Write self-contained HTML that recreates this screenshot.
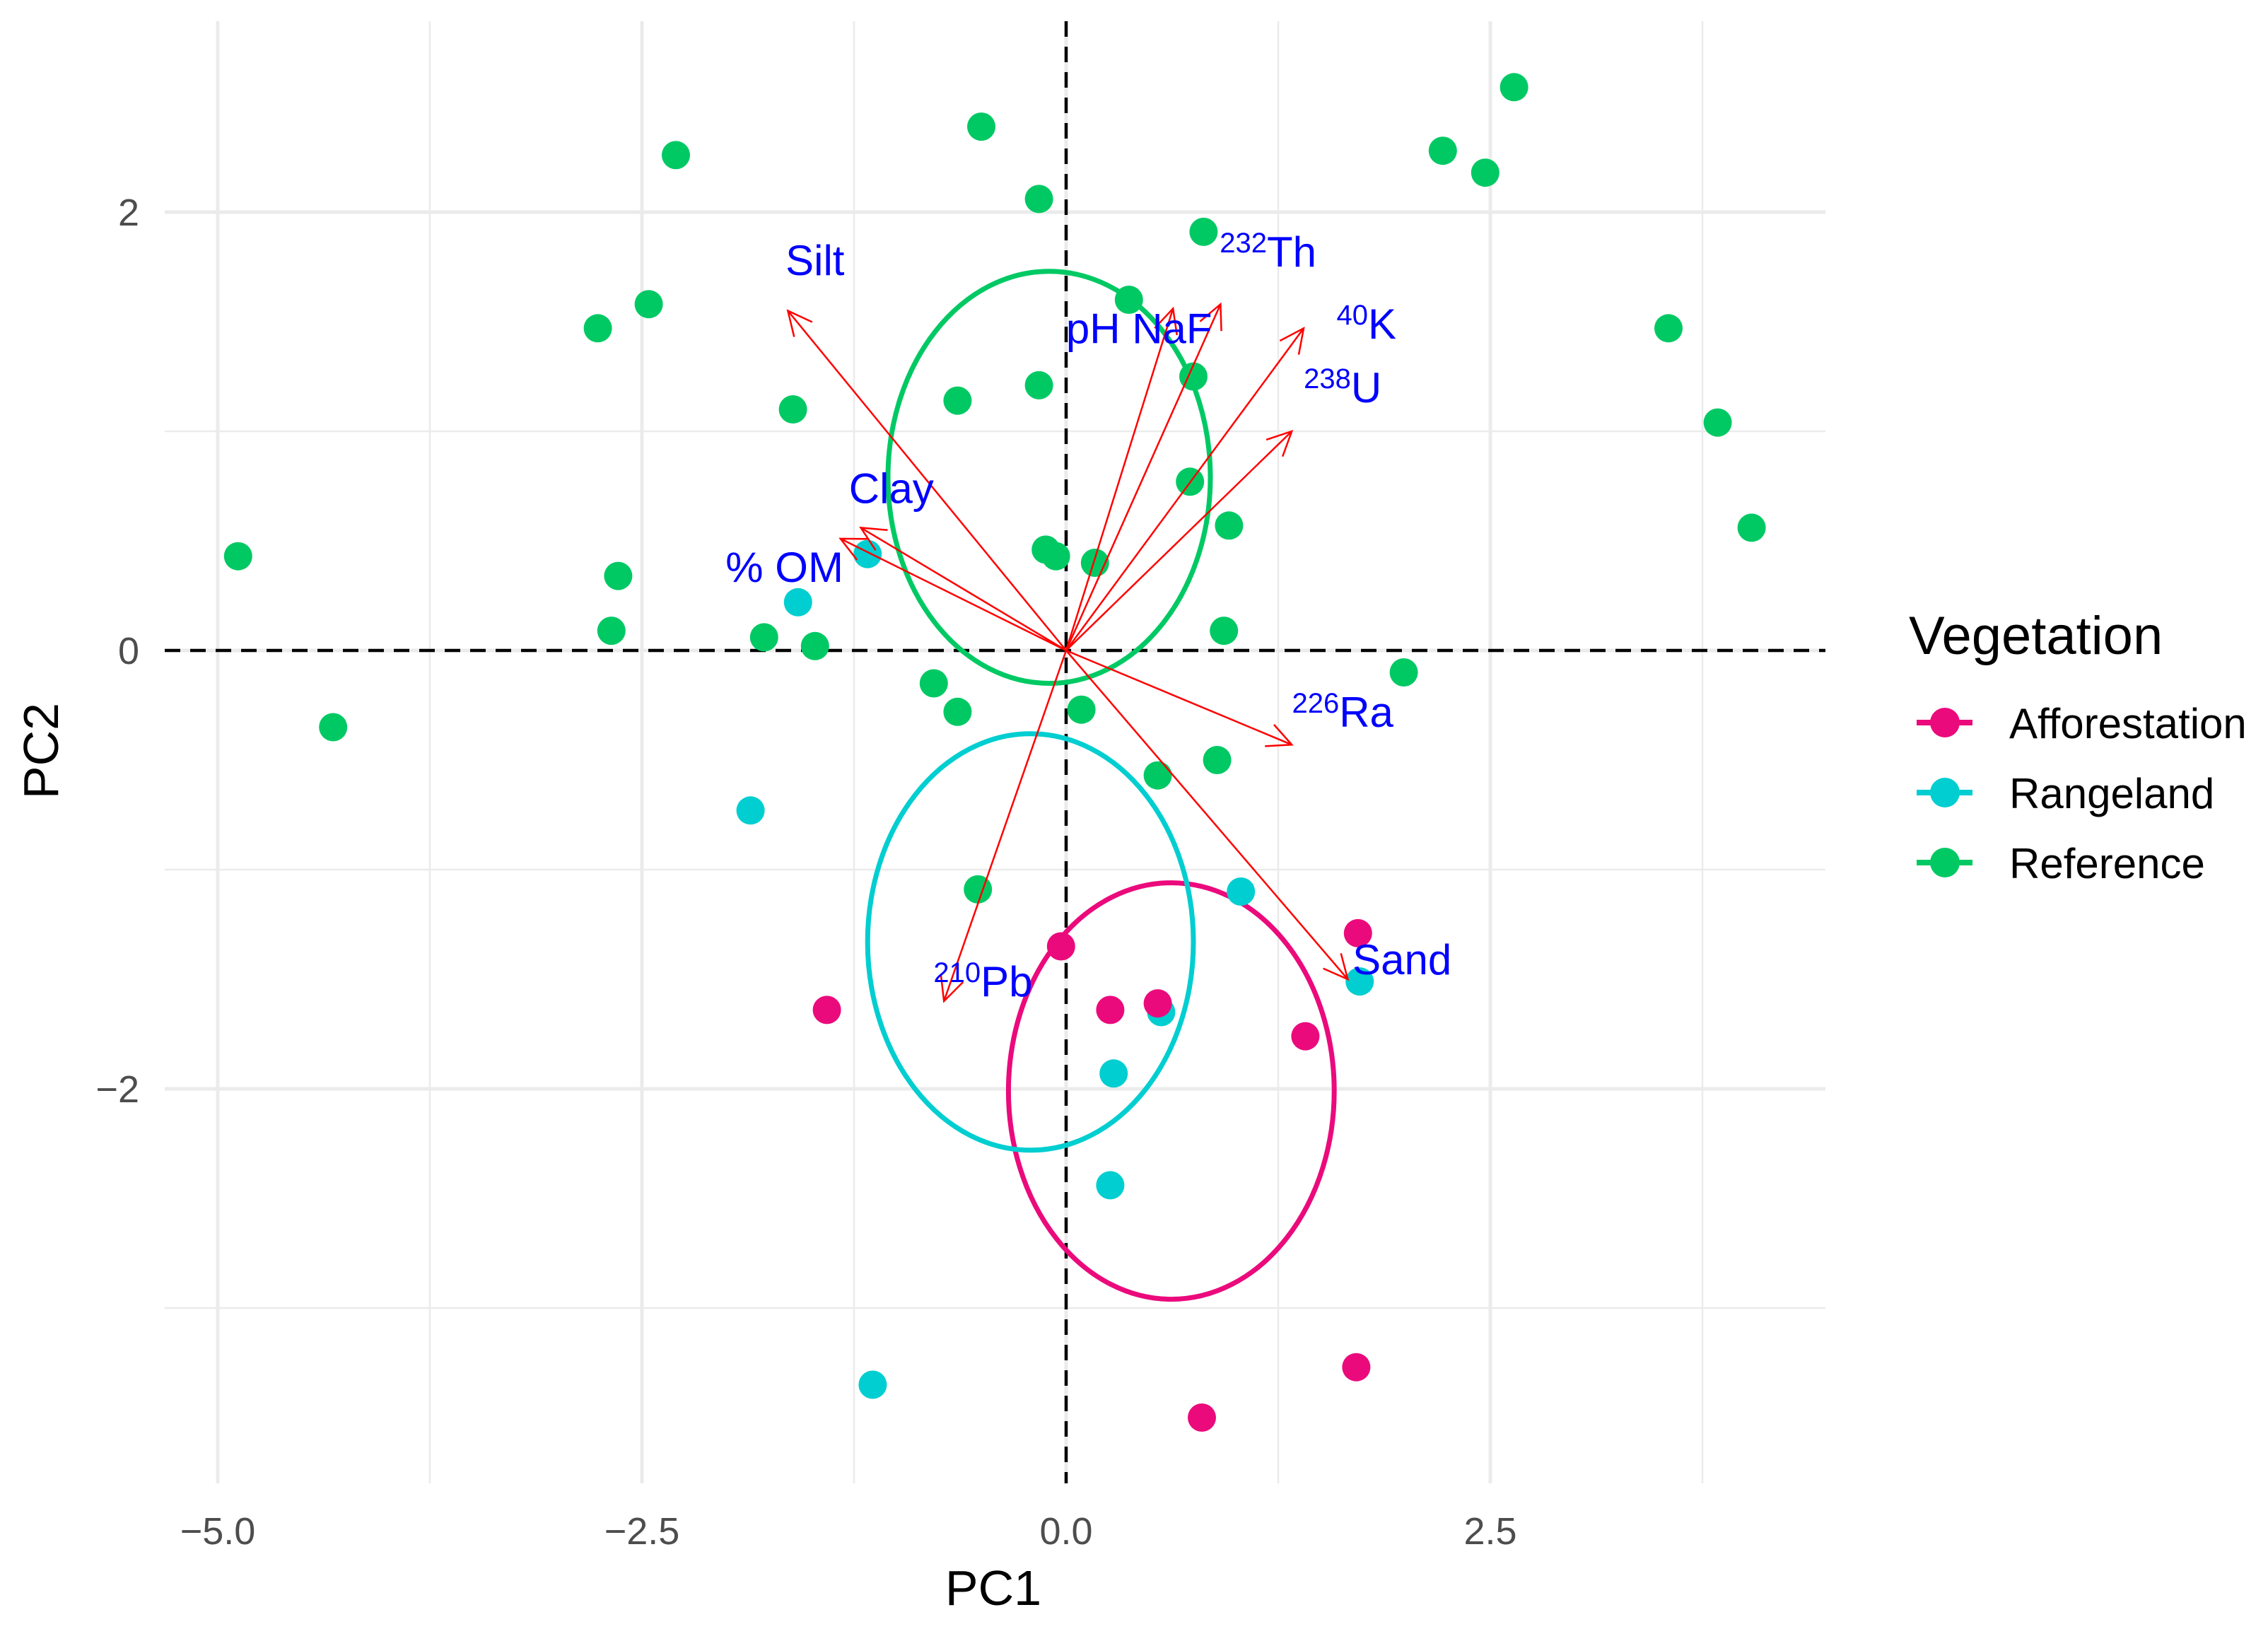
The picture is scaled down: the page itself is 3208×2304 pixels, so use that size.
<!DOCTYPE html>
<html><head><meta charset="utf-8"><style>
html,body{margin:0;padding:0;background:#fff;}
svg{display:block;font-family:"Liberation Sans",Arial,sans-serif;}
</style></head><body>
<svg id="chart" width="3208" height="2304" viewBox="0 0 3208 2304" xmlns="http://www.w3.org/2000/svg">
<rect width="3208" height="2304" fill="#fff"/>
<g id="grid"></g>
<g id="refl"></g>
<g id="ells"></g>
<g id="pts"></g>
<g id="arrows"></g>
<g id="labels"></g>
<g id="axes"></g>
<g id="legend"></g>
</svg>
<script>
const xTicks = [-5.0, -2.5, 0.0, 2.5];
const xTickLabels = ["\u22125.0", "\u22122.5", "0.0", "2.5"];
const yTicks = [-2, 0, 2];
const yTickLabels = ["\u22122", "0", "2"];
const groups = ["Afforestation", "Rangeland", "Reference"];
const groupColors = ["#EB0A7C", "#00CED0", "#00C964"];
const refX = [2.64,2.22,2.47,-0.50,-0.16,0.81,-2.30,-2.46,-2.76,3.55,3.84,4.04,0.37,-0.16,-0.64,0.75,-1.61,0.73,0.96,-0.12,-0.06,0.17,-4.88,-2.64,-2.68,-1.78,-1.48,0.93,1.99,-0.78,-0.64,0.09,-4.32,0.89,0.54,-0.52];
const refY = [2.57,2.28,2.18,2.39,2.06,1.91,2.26,1.58,1.47,1.47,1.04,0.56,1.60,1.21,1.14,1.25,1.10,0.77,0.57,0.46,0.43,0.40,0.43,0.34,0.09,0.06,0.02,0.09,-0.10,-0.15,-0.28,-0.27,-0.35,-0.50,-0.57,-1.09];
const rangeX = [-1.17,-1.58,-1.86,1.03,1.73,0.56,0.28,0.26,-1.14];
const rangeY = [0.44,0.22,-0.73,-1.10,-1.51,-1.65,-1.93,-2.44,-3.35];
const affX = [1.72,-0.03,0.26,0.54,-1.41,1.41,1.71,0.80];
const affY = [-1.29,-1.35,-1.64,-1.61,-1.64,-1.76,-3.27,-3.50];
const ellCX = [0.62, -0.21, -0.10];
const ellCY = [-2.01, -1.33, 0.79];
const ellRX = [0.96, 0.96, 0.95];
const ellRY = [0.95, 0.95, 0.94];
const arrowNames = ["Silt","Clay","OM","pH","NaF","K40","U238","Ra226","Sand","Pb210"];
const arrowX = [-1.64,-1.21,-1.33,0.63,0.91,1.40,1.33,1.33,1.66,-0.72];
const arrowY = [1.55,0.56,0.51,1.56,1.58,1.47,1.00,-0.43,-1.50,-1.60];
const labelSup = ["","","","","232","40","238","226","","210"];
const labelMain = ["Silt","Clay","% OM","pH NaF","Th","K","U","Ra","Sand","Pb"];
const labelX = [-1.48,-1.03,-1.66,0.43,1.19,1.77,1.63,1.63,1.98,-0.49];
const labelY = [1.78,0.74,0.38,1.47,1.82,1.49,1.20,-0.28,-1.41,-1.51];

const NS = "http://www.w3.org/2000/svg";
const X0 = 1508, XU = 240, Y0 = 920, YU = 310;
const PL = 233, PR = 2582, PT = 30, PB = 2098;
const sx = v => X0 + v * XU;
const sy = v => Y0 - v * YU;
function mk(tag, parent, attrs) {
  const e = document.createElementNS(NS, tag);
  for (const k in attrs) e.setAttribute(k, attrs[k]);
  parent.appendChild(e);
  return e;
}
const grid = document.getElementById('grid');
for (let v = -5; v <= 4; v += 1.25) {
  const l = mk('line', grid, {x1: sx(v), x2: sx(v), y1: PT, y2: PB, stroke: '#ebebeb', 'stroke-width': (Math.abs(v / 2.5 - Math.round(v / 2.5)) < 1e-6) ? 5 : 2.5});
  
  
}
for (let v = -3; v <= 2; v += 1) {
  const l = mk('line', grid, {x1: PL, x2: PR, y1: sy(v), y2: sy(v), stroke: '#ebebeb', 'stroke-width': (v % 2 === 0) ? 5 : 2.5});
  
  
}
const refl = document.getElementById('refl');
let h = mk('line', refl, {x1: PL, x2: PR, y1: sy(0), y2: sy(0), stroke: '#000', 'stroke-width': 4.5, 'stroke-dasharray': '22 14'});


let vl = mk('line', refl, {x1: sx(0), x2: sx(0), y1: PT, y2: PB, stroke: '#000', 'stroke-width': 4.5, 'stroke-dasharray': '22 14'});



const ells = document.getElementById('ells');
for (let i = 0; i < groups.length; i++) {
  const e = mk('ellipse', ells, {cx: sx(ellCX[i]), cy: sy(ellCY[i]), rx: ellRX[i] * XU, ry: ellRY[i] * YU, fill: 'none', stroke: groupColors[i], 'stroke-width': 7});
  
  
}
const pts = document.getElementById('pts');
const series = [[affX, affY], [rangeX, rangeY], [refX, refY]];
[2, 1, 0].forEach(gi => {
  const [xs, ys] = series[gi];
  for (let i = 0; i < xs.length; i++) {
    const c = mk('circle', pts, {cx: sx(xs[i]), cy: sy(ys[i]), r: 20, fill: groupColors[gi]});
    
    
  }
});
const ar = document.getElementById('arrows');
for (let i = 0; i < arrowX.length; i++) {
  const x1 = sx(0), y1 = sy(0), x2 = sx(arrowX[i]), y2 = sy(arrowY[i]);
  const g = mk('g', ar, {});
  
  
  mk('line', g, {x1, y1, x2, y2, stroke: '#ff0000', 'stroke-width': 2.5});
  const a = Math.atan2(y2 - y1, x2 - x1), L = 38, w = 0.45;
  mk('polyline', g, {points: `${x2 - L*Math.cos(a - w)},${y2 - L*Math.sin(a - w)} ${x2},${y2} ${x2 - L*Math.cos(a + w)},${y2 - L*Math.sin(a + w)}`, fill: 'none', stroke: '#ff0000', 'stroke-width': 2.5});
}
const lb = document.getElementById('labels');
for (let i = 0; i < labelMain.length; i++) {
  const t = mk('text', lb, {x: sx(labelX[i]), y: sy(labelY[i]) + 21, 'text-anchor': 'middle', 'font-size': 60, fill: '#0000ff'});
  
  
  if (labelSup[i]) {
    const s = mk('tspan', t, {'font-size': 40, dy: -20});
    s.textContent = labelSup[i];
    const m = mk('tspan', t, {dy: 20});
    m.textContent = labelMain[i];
  } else t.textContent = labelMain[i];
}
const axes = document.getElementById('axes');
for (let i = 0; i < xTicks.length; i++) {
  const t = mk('text', axes, {x: sx(xTicks[i]), y: 2184, 'text-anchor': 'middle', 'font-size': 54, fill: '#4d4d4d'});
  t.textContent = xTickLabels[i];
  
  
}
for (let i = 0; i < yTicks.length; i++) {
  const t = mk('text', axes, {x: 197, y: sy(yTicks[i]) + 19, 'text-anchor': 'end', 'font-size': 54, fill: '#4d4d4d'});
  t.textContent = yTickLabels[i];
  
  
}
let xt = mk('text', axes, {x: 1405, y: 2270, 'text-anchor': 'middle', 'font-size': 70, fill: '#000'});
xt.textContent = 'PC1';


let yt = mk('text', axes, {x: 0, y: 0, 'text-anchor': 'middle', 'font-size': 70, fill: '#000', transform: 'translate(82,1062) rotate(-90)'});
yt.textContent = 'PC2';



const lg = document.getElementById('legend');
let lt = mk('text', lg, {x: 2700, y: 925, 'font-size': 76, fill: '#000'});
lt.textContent = 'Vegetation';


const legY = [1022, 1121, 1220];
for (let i = 0; i < groups.length; i++) {
  const g = mk('g', lg, {});
  
  
  mk('line', g, {x1: 2711, x2: 2790, y1: legY[i], y2: legY[i], stroke: groupColors[i], 'stroke-width': 8});
  mk('circle', g, {cx: 2751, cy: legY[i], r: 21, fill: groupColors[i]});
  const t = mk('text', g, {x: 2842, y: legY[i] + 22, 'font-size': 60, fill: '#000'});
  t.textContent = groups[i];
}
</script>
</body></html>
